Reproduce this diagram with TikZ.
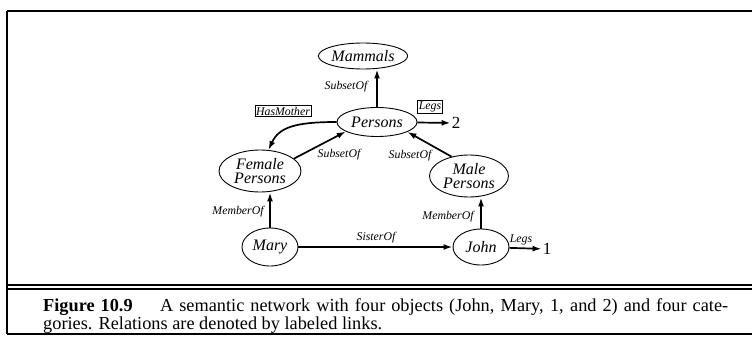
\documentclass[tikz,border=0pt]{standalone}
\usepackage{fontspec}
\setmainfont{Liberation Serif}
\usetikzlibrary{shapes.geometric,arrows.meta}
\begin{document}
\begin{tikzpicture}[x=1pt,y=-1pt,
  concept/.style={draw,ellipse,line width=0.9pt,inner sep=0pt,align=center,font=\fontsize{16}{14.5}\selectfont\itshape},
  link/.style={line width=1.7pt,-{Latex[length=9pt,width=6pt]}},
  lbl/.style={inner sep=1pt,font=\fontsize{11.8}{11}\selectfont\itshape},
  tag/.style={lbl,draw,line width=0.6pt,inner sep=1.2pt},
  val/.style={inner sep=1pt,font=\fontsize{17}{17}\selectfont},
  captxt/.style={anchor=base west,inner sep=0pt,font=\fontsize{18.3}{18}\selectfont}]
\useasboundingbox (0,0) rectangle (752,356);
% frame
\draw[line width=1.4pt] (7,11) -- (752,11);
\draw[line width=1.2pt] (7,11) -- (7,334);
\draw[line width=1.1pt] (7,285) -- (752,285) (7,289) -- (752,289);
\draw[line width=1.2pt] (7,334) -- (752,334);
% categories and objects
\node[concept,minimum width=52pt,minimum height=26pt] (mammals) at (363,56) {Mammals};
\node[concept,minimum width=80pt,minimum height=29pt] (persons) at (377,122) {Persons};
\node[concept,minimum width=82pt,minimum height=42pt] (female) at (260,171) {Female\\Persons};
\node[concept,minimum width=79pt,minimum height=42pt] (male) at (469,176) {Male\\Persons};
\node[concept,minimum width=56pt,minimum height=38pt] (mary) at (270,247) {Mary};
\node[concept,minimum width=56pt,minimum height=36pt] (john) at (481,247) {John};
\node[val] (two) at (456,123) {2};
\node[val] (one) at (547,249) {1};
% links
\draw[link] (persons.north) -- (persons.north |- mammals.south);
\draw[link] (persons.west) .. controls (296,122) and (279,127) .. (female.68);
\draw[link] (persons) -- (two);
\draw[link] (female.20) -- (persons.197);
\draw[link] (male.132) -- (persons.-18);
\draw[link] (mary.north) -- (mary.north |- female.south);
\draw[link] (john.north) -- (john.north |- male.south);
\draw[link] (mary) -- (john);
\draw[link] (john) -- (one);
% link labels
\node[lbl] (subm) at (346,87) {SubsetOf};
\node[tag] (hasm) at (283,111) {HasMother};
\node[tag] (legsp) at (430,107) {Legs};
\node[lbl] (subf) at (339,155) {SubsetOf};
\node[lbl] (subml) at (410,156) {SubsetOf};
\node[lbl] (memf) at (238,212) {MemberOf};
\node[lbl] (memm) at (448,217) {MemberOf};
\node[lbl] (sis) at (376,238) {SisterOf};
\node[lbl] (legsj) at (521,240) {Legs};
% caption
\node[captxt] (capa) at (43,311) {\makebox[685pt][s]{\textbf{Figure 10.9}\hspace{1.5em}A semantic network with four objects (John, Mary, 1, and 2) and four cate-}};
\node[captxt] (capb) at (43,329) {gories. Relations are denoted by labeled links.};
\end{tikzpicture}
\end{document}
